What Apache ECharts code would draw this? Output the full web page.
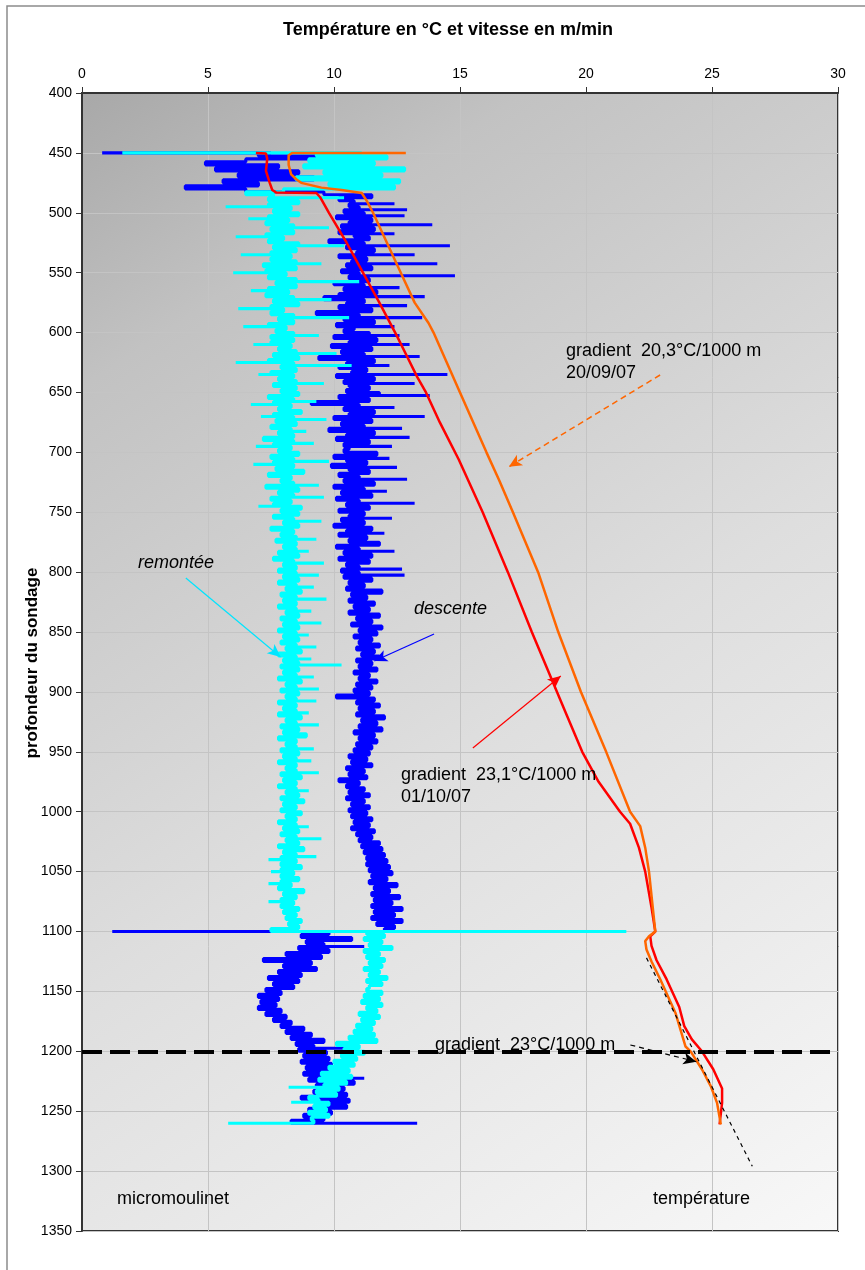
<!DOCTYPE html>
<html><head><meta charset="utf-8">
<script src="https://cdn.jsdelivr.net/npm/echarts@6/dist/echarts.min.js"></script>
<style>html,body{margin:0;padding:0;background:#fff}#c{width:865px;height:1270px}</style>
</head><body><div id="c"></div>
<script>
// ---- data ----
const depthStart = 450, depthStep = 2.5;
// micromoulinet speed, descent (blue) — one entry per 2.5 m; an array = several readings at that depth (spikes)
const descente = [
 [0.8,7.5],7.0,10.8,6.5,4.9,7.8,5.3,8.6,6.2,9.2,5.6,7.0,4.1,6.5,9.6,11.5,10.2,[10.8,12.4,10.8],10.6,[11.0,12.9,11.0],
 10.4,[11.2,12.8,11.2],10.1,11.5,[10.6,13.9,10.6],10.3,11.6,[10.2,12.4,10.2],10.8,11.4,9.8,[11.2,14.6,11.2],10.5,11.6,[10.9,13.2,10.9],10.2,11.3,[10.7,14.1,10.7],10.5,11.5,
 10.3,[11.0,14.8,11.0],10.6,11.4,10.0,[11.2,12.6,11.2],10.4,11.7,[10.2,13.6,10.2],9.6,11.2,[10.5,12.9,10.5],10.2,11.5,9.3,[11.0,13.5,11.0],10.4,11.6,[10.1,12.4,10.1],10.8,
 10.4,[11.4,12.6,11.4],10.0,11.7,[10.6,13.0,10.6],9.9,11.5,10.3,[11.2,13.4,11.2],9.4,11.6,[10.5,12.2,10.5],10.2,11.3,[10.7,14.5,10.7],10.1,11.6,[10.4,13.2,10.4],10.6,11.4,
 10.5,[11.8,13.8,11.8],10.2,11.4,9.1,[11.0,12.4,11.0],10.4,11.6,[10.6,13.6,10.6],10.0,11.5,10.3,[11.2,12.7,11.2],9.8,11.6,[10.5,13.0,10.5],10.1,11.4,[10.4,12.3,10.4],10.6,
 10.4,11.7,[10.0,12.2,10.0],10.5,11.3,[9.9,12.5,9.9],10.6,11.4,10.2,[11.0,12.9,11.0],10.4,11.6,10.0,[11.2,12.1,11.2],10.3,11.5,10.1,[11.0,13.2,11.0],10.5,11.4,
 10.2,11.2,[10.6,12.3,10.6],10.3,11.2,10.0,11.5,[10.5,12.0,10.5],10.2,11.3,10.6,11.8,10.1,[11.0,12.4,11.0],10.4,11.5,10.2,11.4,10.5,[11.0,12.7,11.0],
 10.3,[11.0,12.8,11.0],10.4,11.5,10.6,11.2,10.5,11.9,10.7,11.3,10.6,11.6,10.8,11.4,10.6,11.8,10.9,11.5,10.7,11.9,
 11.0,11.7,10.8,11.5,11.0,11.8,10.9,11.6,11.1,11.8,10.9,11.5,11.0,11.7,10.8,11.4,11.0,11.7,10.9,11.5,
 10.8,11.4,10.1,11.6,10.9,11.8,11.0,11.6,10.9,12.0,11.1,11.7,11.0,11.9,10.8,11.6,11.0,11.7,10.9,11.5,
 10.8,11.4,10.6,11.3,10.7,11.5,10.5,11.2,10.6,11.3,10.2,11.0,10.5,11.2,10.6,11.4,10.5,11.2,10.7,11.4,
 10.6,11.3,10.7,11.5,10.8,11.4,10.7,11.6,10.9,11.5,11.0,11.8,11.1,11.9,11.2,12.0,11.3,12.1,11.3,12.2,
 11.4,12.3,11.5,12.1,11.4,12.5,11.6,12.2,11.5,12.6,11.6,12.3,11.5,12.7,11.6,12.4,11.5,12.7,11.7,12.4,
 [12.0,1.2,9.4],9.8,8.7,10.7,8.9,[9.6,11.2,9.6],8.6,9.8,8.1,9.5,7.2,9.1,8.0,9.3,7.8,8.7,7.4,8.6,7.6,8.4,
 7.3,7.9,7.0,7.8,7.1,7.7,7.0,7.9,7.3,8.1,7.6,8.3,7.9,8.8,8.1,9.1,8.3,9.6,8.5,[9.2,10.4,9.2],
 8.6,9.7,8.8,9.8,8.7,9.9,8.9,10.1,8.8,[9.6,11.2,9.6],9.0,10.8,9.3,10.4,9.2,10.5,8.7,10.6,9.5,10.5,
 9.0,9.9,8.8,9.6,[8.3,13.3]
];
// micromoulinet speed, ascent (cyan)
const remontee = [
 [1.6,11.1],9.3,12.1,9.0,11.6,8.8,12.8,9.6,11.9,8.5,12.6,9.8,12.4,8.0,6.5,[7.6,10.4,7.6],7.4,8.6,[7.4,5.7,7.4],8.3,
 7.6,8.6,[7.4,6.6,7.4],8.2,7.3,[8.4,9.8,8.4],7.5,8.4,[7.3,6.1,7.3],8.0,7.4,[8.6,10.4,8.6],7.6,8.5,[7.5,6.3,7.5],8.3,7.5,[8.5,9.5,8.5],7.2,8.5,
 [7.3,6.0,7.3],8.1,7.4,[8.5,11.0,8.5],7.7,8.5,[7.4,6.7,7.4],8.2,7.3,[8.4,9.9,8.4],7.6,8.6,[7.5,6.2,7.5],8.0,7.5,[8.4,10.6,8.4],7.8,8.4,[7.4,6.4,7.4],8.1,
 7.7,[8.4,9.4,8.4],7.5,8.4,[7.5,6.8,7.5],8.3,7.8,[8.5,10.1,8.5],7.6,8.6,[7.4,6.1,7.4],[8.4,10.7,8.4],7.9,8.5,[7.5,7.0,7.5],8.4,7.8,[8.5,9.6,8.5],7.6,8.5,
 7.9,8.6,7.4,[8.4,9.3,8.4],[7.6,6.7,7.6],8.3,7.8,8.7,[7.6,7.1,7.6],[8.4,9.7,8.4],7.7,8.5,7.5,[8.3,8.9,8.3],7.8,8.4,7.2,[8.4,9.2,8.4],[7.6,6.9,7.6],8.3,
 7.8,8.6,7.5,[8.4,9.8,8.4],[7.6,6.8,7.6],8.4,7.7,8.8,7.4,8.3,7.9,[8.4,9.4,8.4],7.3,8.6,7.8,[8.4,9.6,8.4],7.5,8.3,[7.6,7.0,7.6],8.7,
 7.9,8.6,7.6,[8.4,9.5,8.4],8.0,8.6,7.5,8.4,7.9,[8.5,9.3,8.5],7.7,8.5,8.0,[8.5,9.0,8.5],7.8,8.6,7.6,[8.4,9.6,8.4],8.0,8.5,
 7.8,[8.5,9.4,8.5],8.0,8.6,7.8,[8.5,9.2,8.5],8.1,8.7,7.9,[8.5,9.7,8.5],8.0,8.5,7.8,[8.5,9.1,8.5],8.1,8.6,7.9,[8.5,9.5,8.5],8.0,8.6,
 7.8,[8.5,9.0,8.5],8.0,8.6,7.9,[8.5,9.3,8.5],8.1,8.7,7.8,[8.5,9.1,8.5],8.0,[8.6,10.3,8.6],7.9,8.6,8.0,[8.5,9.2,8.5],7.8,8.7,8.1,[8.5,9.4,8.5],
 7.9,8.6,8.1,[8.5,9.3,8.5],7.8,8.5,8.0,[8.5,9.0,8.5],7.8,8.7,8.1,[8.5,9.4,8.5],7.9,8.6,8.0,8.9,7.8,8.5,8.1,[8.5,9.2,8.5],
 7.9,8.6,8.0,[8.5,9.1,8.5],7.8,8.5,8.1,[8.5,9.4,8.5],7.9,8.7,8.0,8.5,7.8,[8.5,9.0,8.5],8.1,8.6,7.9,8.8,8.0,8.5,
 7.9,8.7,8.1,8.5,7.8,[8.5,9.0,8.5],8.0,8.6,7.9,[8.5,9.5,8.5],8.1,8.6,7.8,8.8,8.0,[8.5,9.3,8.5],[7.9,7.4,7.9],8.5,7.9,8.7,
 [7.9,7.5,7.9],8.4,7.9,8.6,[7.9,7.4,7.9],8.3,7.8,8.8,8.0,8.5,[7.9,7.4,7.9],8.4,7.9,8.6,8.0,8.5,8.1,8.7,8.2,8.6,
 [7.5,21.6,11.6],11.3,12.0,11.2,11.9,11.4,12.3,11.2,11.8,11.3,12.0,11.4,11.9,11.2,11.8,11.4,12.1,11.3,11.9,11.4,
 11.3,11.9,11.2,11.8,11.1,11.9,11.3,11.7,11.0,11.8,11.1,11.6,10.9,11.5,10.8,11.6,10.6,11.7,10.1,11.0,
 10.4,11.2,10.3,10.9,10.0,10.8,9.8,10.6,9.5,10.7,9.4,10.5,[9.6,8.2,9.6],10.2,9.3,10.1,9.0,[9.4,8.3,9.4],9.8,9.2,
 9.7,9.0,9.8,9.1,[9.2,5.8]
];
// temperature log 01/10/07 (red)
const depth0110 = [450,450.5,455,465,475,481,483,483.5,487,500,525,550,575,603,620,637,650,675,706,750,800,850,890,920,950,975,1000,1010,1030,1050,1080,1100,1104,1112,1124,1140,1163,1179,1190,1200,1215,1231,1243,1252,1261];
const temp0110  = [6.9,7.3,7.35,7.3,7.45,7.55,7.7,9.3,9.45,9.8,10.5,11.15,11.8,12.5,12.9,13.3,13.65,14.2,14.95,15.9,16.9,17.85,18.65,19.25,19.85,20.5,21.35,21.75,22.1,22.35,22.6,22.75,22.55,22.6,22.8,23.2,23.7,23.9,24.2,24.6,25.05,25.4,25.4,25.35,25.3];
// temperature log 20/09/07 (orange)
const depth2009 = [450,450,452,460,468,472,475,479,481,483.5,490,500,525,550,575,592,600,650,700,723,750,800,850,900,950,1000,1012,1030,1050,1080,1100,1104,1108,1115,1125,1140,1168,1196,1200,1215,1229,1243,1261];
const temp2009  = [12.85,8.35,8.2,8.2,8.3,8.5,8.7,9.5,10.3,11.1,11.3,11.55,12.1,12.65,13.2,13.75,13.95,15.0,16.05,16.55,17.1,18.1,18.9,19.8,20.8,21.75,22.15,22.35,22.5,22.65,22.75,22.5,22.35,22.4,22.6,22.95,23.55,23.95,24.15,24.6,24.95,25.2,25.35];
// 23 °C/1000 m gradient guide line
const gradDepth = [1122,1296];
const gradTemp  = [22.4,26.6];
const refDepth = 1200;

// ---- build ----
function profile(vals){const pts=[];vals.forEach((v,i)=>{const d=depthStart+i*depthStep;(Array.isArray(v)?v:[v]).forEach(x=>pts.push([x,d]));});return pts;}
function pairs(xs,ys){return xs.map((x,i)=>[x,ys[i]]);}

const FONT='"Liberation Sans", Arial, sans-serif';
const chart=echarts.init(document.getElementById('c'),null,{renderer:'canvas'});
function arrow(p1,p2,color,type,width){
  return [{coord:p1,symbol:'none',lineStyle:{color:color,type:type,width:width}},{coord:p2,symbol:'arrow',symbolSize:[9,13]}];
}
const ml=(items)=>({silent:true,animation:false,symbol:['none','none'],label:{show:false},emphasis:{disabled:true},data:items});

chart.setOption({
  animation:false,
  backgroundColor:'#ffffff',
  grid:{left:82,top:93,width:756,height:1138,show:true,borderColor:'#333',borderWidth:2,
    backgroundColor:new echarts.graphic.LinearGradient(0,0,1,1,[
      {offset:0,color:'#a8a8a8'},{offset:0.18,color:'#c2c2c2'},{offset:0.35,color:'#cfcfcf'},
      {offset:0.55,color:'#dedede'},{offset:0.85,color:'#efefef'},{offset:1,color:'#f8f8f8'}])},
  xAxis:{type:'value',position:'top',min:0,max:30,interval:5,
    axisLine:{show:true,lineStyle:{color:'#333',width:2}},
    axisTick:{show:true,length:6,lineStyle:{color:'#333'}},
    axisLabel:{color:'#000',fontSize:14,fontFamily:FONT,margin:12},
    splitLine:{show:true,lineStyle:{color:'#c4c4c4',width:1}}},
  yAxis:{type:'value',inverse:true,min:400,max:1350,interval:50,
    axisLine:{show:true,lineStyle:{color:'#333',width:2}},
    axisTick:{show:true,length:6,lineStyle:{color:'#333'}},
    axisLabel:{color:'#000',fontSize:14,fontFamily:FONT,margin:10,formatter:v=>String(v)},
    splitLine:{show:true,lineStyle:{color:'#c4c4c4',width:1}}},
  series:[
    {name:'descente',type:'line',data:profile(descente),showSymbol:false,symbol:'none',step:'end',
      lineStyle:{color:'#0000ff',width:3.1},z:2,
      markLine:ml([arrow([13.97,851.6],[11.6,874.2],'#0000ff','solid',1.2)])},
    {name:'remontée',type:'line',data:profile(remontee),showSymbol:false,symbol:'none',step:'end',
      lineStyle:{color:'#00ffff',width:3.1},z:2,
      markLine:ml([arrow([4.12,804.9],[7.88,870.8],'#00e5ff','solid',1.2)])},
    {name:'01/10/07',type:'line',data:pairs(temp0110,depth0110),showSymbol:false,symbol:'none',
      lineStyle:{color:'#ff0000',width:2.5},z:3,
      markLine:ml([arrow([15.51,946.8],[19.0,886.7],'#ff0000','solid',1.2)])},
    {name:'20/09/07',type:'line',data:pairs(temp2009,depth2009),showSymbol:false,symbol:'none',
      lineStyle:{color:'#ff6600',width:2.5},z:3,
      markLine:ml([arrow([22.94,635.4],[16.94,712.0],'#ff6600',[6,4],1.5)])},
    {name:'gradient',type:'line',data:pairs(gradTemp,gradDepth),showSymbol:false,symbol:'none',
      lineStyle:{color:'#000',width:1.2,type:[4,4]},z:4,
      markLine:ml([
        [{yAxis:refDepth,x:82,symbol:'none',lineStyle:{color:'#000',width:4,type:[20,8]}},{yAxis:refDepth,x:838,symbol:'none'}],
        arrow([21.76,1194.7],[24.38,1208.7],'#000',[5,4],1.2)
      ])}
  ],
  graphic:[
    {type:'rect',shape:{x:7,y:6,width:900,height:1300},style:{fill:'none',stroke:'#8c8c8c',lineWidth:1.5},silent:true,z:-10},
    {type:'text',x:448,y:30,style:{text:'Température en °C et vitesse en m/min',font:'bold 18px '+FONT,fill:'#000',align:'center',verticalAlign:'middle'}},
    {type:'text',x:32,y:663,rotation:Math.PI/2,style:{text:'profondeur du sondage',font:'bold 17px '+FONT,fill:'#000',align:'center',verticalAlign:'middle'}},
    {type:'text',x:566,y:351,z:10,style:{text:'gradient  20,3°C/1000 m',font:'18px '+FONT,fill:'#000',align:'left',verticalAlign:'middle'}},
    {type:'text',x:566,y:373,z:10,style:{text:'20/09/07',font:'18px '+FONT,fill:'#000',align:'left',verticalAlign:'middle'}},
    {type:'text',x:401,y:775,z:10,style:{text:'gradient  23,1°C/1000 m',font:'18px '+FONT,fill:'#000',align:'left',verticalAlign:'middle'}},
    {type:'text',x:401,y:797,z:10,style:{text:'01/10/07',font:'18px '+FONT,fill:'#000',align:'left',verticalAlign:'middle'}},
    {type:'text',x:138,y:563,z:10,style:{text:'remontée',font:'italic 18px '+FONT,fill:'#000',align:'left',verticalAlign:'middle'}},
    {type:'text',x:414,y:609,z:10,style:{text:'descente',font:'italic 18px '+FONT,fill:'#000',align:'left',verticalAlign:'middle'}},
    {type:'text',x:435,y:1045,z:10,style:{text:'gradient  23°C/1000 m',font:'18px '+FONT,fill:'#000',align:'left',verticalAlign:'middle'}},
    {type:'text',x:117,y:1199,z:10,style:{text:'micromoulinet',font:'18px '+FONT,fill:'#000',align:'left',verticalAlign:'middle'}},
    {type:'text',x:653,y:1199,z:10,style:{text:'température',font:'18px '+FONT,fill:'#000',align:'left',verticalAlign:'middle'}}
  ]
});
</script></body></html>
